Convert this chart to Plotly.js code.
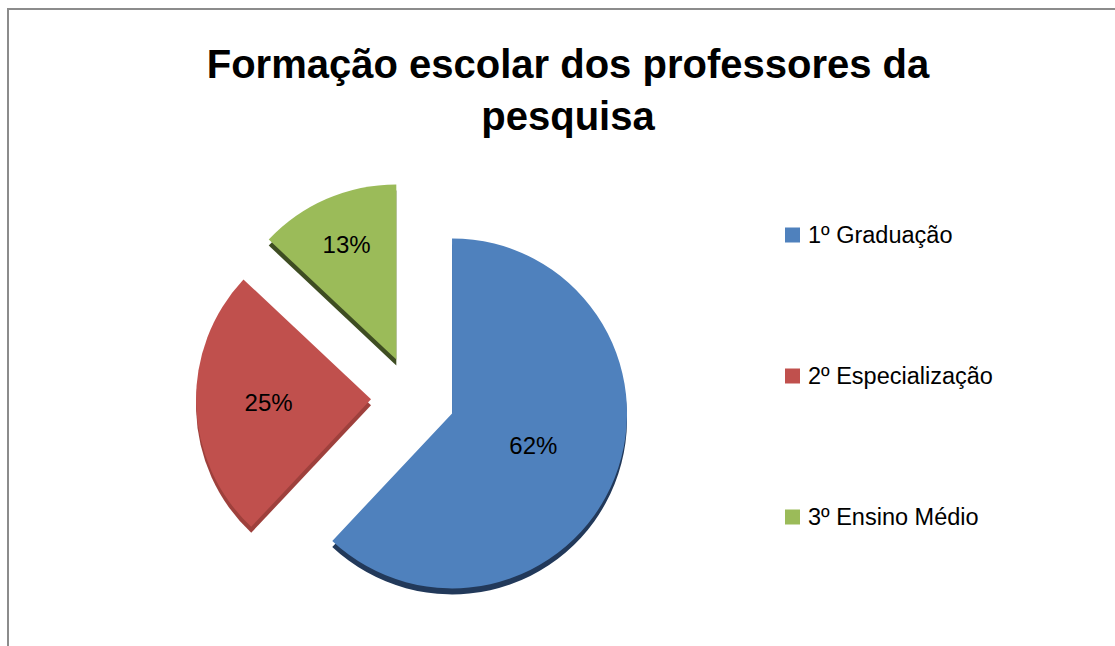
<!DOCTYPE html>
<html>
<head>
<meta charset="utf-8">
<script src="https://cdn.plot.ly/plotly-3.0.1.min.js"></script>
<style>
  html, body { margin: 0; padding: 0; background: #ffffff; }
  #chart { position: absolute; left: 0; top: 0; width: 1115px; height: 646px; }
  #frame { position: absolute; left: 7px; top: 8px; width: 1120px; height: 660px;
           border-left: 2px solid #8c8c8c; border-top: 2px solid #8c8c8c; pointer-events: none; }
</style>
</head>
<body>
<div id="chart"></div>
<div id="frame"></div>
<script>
// ---- data ----
const categories = ["1º Graduação", "2º Especialização", "3º Ensino Médio"];
const values = [62, 25, 13];
const colors = ["#4F81BD", "#C0504D", "#9BBB59"];
const sideColors = ["#22395A", "#9E403C", "#3E4D22"];
const chartTitle = "Formação escolar dos professores da<br>pesquisa";

const FONT = "Liberation Sans, Arial, sans-serif";
const dom = { x: [0.1758, 0.565], y: [0.048, 0.72] };
const depth = 6 / 646;

// darker copy just below, gives the 3-D edge
const side = {
  type: "pie",
  labels: categories,
  values: values,
  sort: false,
  direction: "clockwise",
  rotation: 0,
  pull: 0.24,
  marker: { colors: sideColors, line: { width: 0 } },
  textinfo: "none",
  hoverinfo: "skip",
  showlegend: false,
  domain: { x: dom.x, y: [dom.y[0] - depth, dom.y[1] - depth] }
};

const pie = {
  type: "pie",
  labels: categories,
  values: values,
  sort: false,
  direction: "clockwise",
  rotation: 0,
  pull: 0.24,
  marker: { colors: colors, line: { width: 0 } },
  textinfo: "percent",
  texttemplate: "%{percent:.0%}",
  textposition: "inside",
  insidetextorientation: "horizontal",
  textfont: { family: FONT, size: 24, color: "#000000" },
  hoverinfo: "label+percent",
  showlegend: false,
  domain: dom
};

// legend built as annotations + squares (layout items)
const annotations = [];
const shapes = [];
const legendY = [1 - 235/646, 1 - 376/646, 1 - 517/646];
categories.forEach((c, i) => {
  annotations.push({
    xref: "paper", yref: "paper",
    x: 806/1115, y: legendY[i],
    xanchor: "left", yanchor: "middle",
    text: c, showarrow: false,
    font: { family: FONT, size: 23.5, color: "#000000" }
  });
  shapes.push({
    type: "rect", xref: "paper", yref: "paper",
    x0: 785/1115, x1: 800/1115,
    y0: legendY[i] - 7.5/646, y1: legendY[i] + 7.5/646,
    fillcolor: colors[i], line: { width: 0 }
  });
});

const layout = {
  width: 1115, height: 646,
  margin: { l: 0, r: 0, t: 0, b: 0 },
  paper_bgcolor: "#ffffff",
  title: {
    text: chartTitle,
    x: 568/1115, xanchor: "center",
    y: 1 - 78/646, yanchor: "top",
    font: { family: FONT, size: 40, color: "#000000", weight: "bold" }
  },
  annotations: annotations,
  shapes: shapes,
  showlegend: false
};

Plotly.newPlot("chart", [side, pie], layout, { displayModeBar: false, staticPlot: true });
</script>
</body>
</html>
